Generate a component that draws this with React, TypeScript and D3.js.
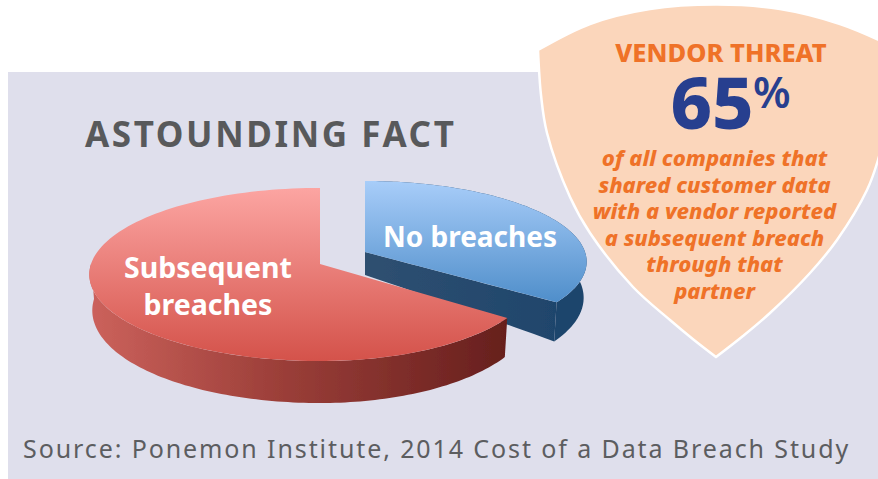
import React from "react";
import * as d3 from "d3";

const categories = ["No breaches", "Subsequent breaches"];
const shares = [35, 65];
const calloutLines = [
  "of all companies that",
  "shared customer data",
  "with a vendor reported",
  "a subsequent breach",
  "through that",
  "partner",
];
const sans = "'Noto Sans', sans-serif";
const P = 0.121;

type Slice = { cx: number; cy: number; rl: number; rr: number; rt: number };
const red: Slice = { cx: 320, cy: 264, rl: 229, rr: 215, rt: 85.3 };
const blue: Slice = { cx: 365, cy: 252, rl: 222, rr: 220, rt: 79.6 };

function project(sl: Slice, a: number, r = 1, drop = false): [number, number] {
  const u = Math.sin(a) * r;
  const v = -Math.cos(a) * r;
  const s = 1 / (1 - P * v);
  const R = u < 0 ? sl.rl : sl.rr;
  let x = sl.cx + R * u * s;
  let y = sl.cy + sl.rt * v * s;
  if (drop) {
    y += 23 + r * (12 + 7 * v);
    x += -3 * u;
  }
  return [x, y];
}

const line = d3.line<[number, number]>();
const arcs = d3.pie<number>().sort(null).startAngle(0).endAngle(2 * Math.PI)(shares);

function rim(sl: Slice, a0: number, a1: number, drop = false) {
  const n = 120;
  return d3.range(n + 1).map((i) => project(sl, a0 + ((a1 - a0) * i) / n, 1, drop));
}
function topPath(sl: Slice, a0: number, a1: number) {
  return line([project(sl, 0, 0), ...rim(sl, a0, a1)]) + "Z";
}
function sidePath(sl: Slice, a0: number, a1: number) {
  return line([...rim(sl, a0, a1), ...rim(sl, a0, a1, true).reverse()]) + "Z";
}
function wallPath(sl: Slice, a: number) {
  const n = 20;
  const top = d3.range(n + 1).map((i) => project(sl, a, i / n));
  const bot = d3.range(n + 1).map((i) => project(sl, a, i / n, true));
  return line([...top, ...bot.reverse()]) + "Z";
}

const [bA, rA] = arcs;

const shieldLeft: [number, number][] = [
  [538, 50], [541, 95], [547, 133], [570, 197], [590, 233], [633, 287], [670, 320], [694, 340], [716, 357],
];
const shieldRight: [number, number][] = [
  [716, 357], [743, 336], [770, 313], [810, 273], [837, 240], [867, 190], [878, 160], [886, 125], [892, 46],
];
const shieldTop: [number, number][] = [
  [892, 46], [840, 24], [780, 9], [717, 4.5], [650, 9], [590, 24], [538, 50],
];
const sm = d3.line<[number, number]>().curve(d3.curveCatmullRom.alpha(0.5));
const shield =
  (sm(shieldLeft) || "") +
  "L" + (sm(shieldRight) || "").slice(1) +
  "L" + (sm(shieldTop) || "").slice(1) + "Z";

export default function App() {
  return (
    <svg width={878} height={479} style={{ position: "absolute", left: 0, top: 0 }} fontFamily={sans}>
      <defs>
        <linearGradient id="redTop" x1="0" y1="0" x2="0" y2="1">
          <stop offset="0" stopColor="#fca5a2" />
          <stop offset="1" stopColor="#d4524a" />
        </linearGradient>
        <linearGradient id="blueTop" x1="0" y1="0" x2="0" y2="1">
          <stop offset="0" stopColor="#a8cdf9" />
          <stop offset="1" stopColor="#4f8eca" />
        </linearGradient>
        <linearGradient id="redSide" x1="0" y1="0" x2="1" y2="0">
          <stop offset="0" stopColor="#cc625c" />
          <stop offset="0.45" stopColor="#9c3f39" />
          <stop offset="1" stopColor="#661f1d" />
        </linearGradient>
        <linearGradient id="blueSide" x1="0" y1="0" x2="1" y2="0">
          <stop offset="0" stopColor="#2f5070" />
          <stop offset="1" stopColor="#1f456c" />
        </linearGradient>
        <filter id="soft"><feGaussianBlur stdDeviation="1" /></filter>
        <filter id="edge"><feGaussianBlur stdDeviation="0.6" /></filter>
      </defs>
      <rect x={8} y={72} width={870} height={407} fill="#dfdfec" />
      <text x={85} y={147} fontSize={35} fontWeight={700} letterSpacing={2.6} fill="#58595b">ASTOUNDING FACT</text>

      <path d={line([project(blue, 0, 0.58), project(blue, 0, 0, true)]) || ""} transform="translate(-2,0)" stroke="#9a9aa6" strokeWidth={2} filter="url(#soft)" fill="none" />
      <g filter="url(#edge)">
        <path d={sidePath(blue, bA.startAngle, bA.endAngle)} fill="#1f456c" />
        <path d={wallPath(blue, bA.endAngle)} fill="url(#blueSide)" />
      </g>
      <path d={topPath(blue, bA.startAngle, bA.endAngle)} fill="url(#blueTop)" />

      <path d={line([project(red, 2 * Math.PI, 0.6), project(red, 0, 0)]) || ""} transform="translate(2,0)" stroke="#9a9aa6" strokeWidth={2} filter="url(#soft)" fill="none" />
      <path d={sidePath(red, rA.startAngle, (3 * Math.PI) / 2)} fill="url(#redSide)" filter="url(#edge)" />
      <path d={topPath(red, rA.startAngle, rA.endAngle)} fill="url(#redTop)" />

      <g fill="#fff" fontWeight={700} fontSize={28.5} textAnchor="middle">
        <text x={208} y={278}>Subsequent</text>
        <text x={208} y={315}>breaches</text>
        <text x={470} y={247} fontSize={28}>{categories[0]}</text>
      </g>

      <path d={shield} fill="#fbd6bb" stroke="#fff" strokeWidth={2.5} />
      <text x={721} y={62} textAnchor="middle" fontSize={25.5} fontWeight={800} fill="#ef7228">VENDOR THREAT</text>
      <text x={712} y={129} textAnchor="middle" fontSize={72} fontWeight={800} fill="#273f8f">65</text>
      <text x={753} y={108} fontSize={43} fontWeight={600} fill="#273f8f">%</text>
      <g fill="#ef7228" fontSize={22} fontWeight={800} fontStyle="italic" textAnchor="middle">
        {calloutLines.map((t, i) => (
          <text key={t} x={714.5} y={166 + i * 26.6}>{t}</text>
        ))}
      </g>
      <text x={23} y={458} fontSize={25} letterSpacing={1.9} fill="#5c5d60">Source: Ponemon Institute, 2014 Cost of a Data Breach Study</text>
    </svg>
  );
}
